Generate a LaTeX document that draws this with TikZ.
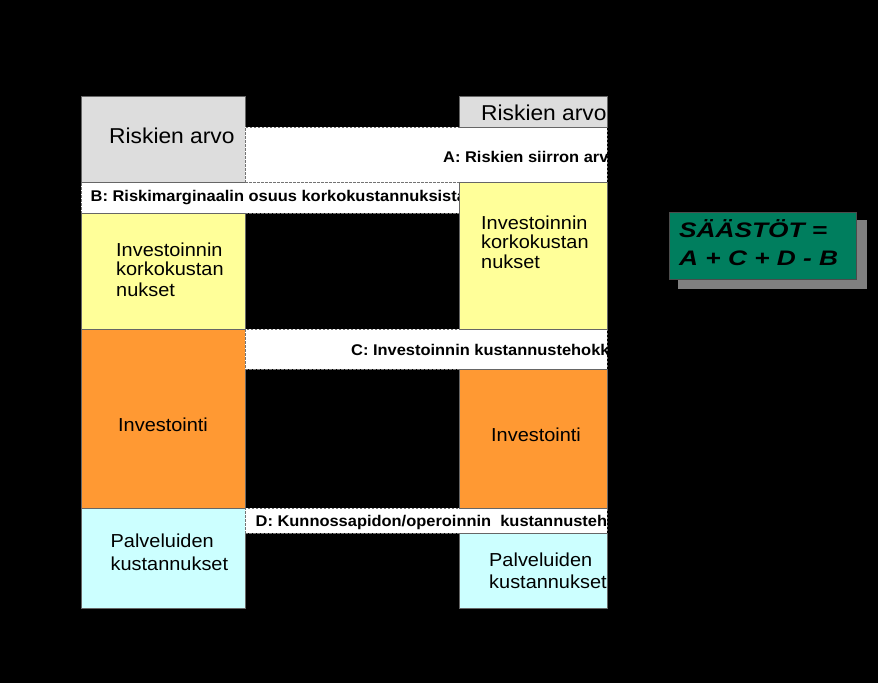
\documentclass[tikz,border=0pt]{standalone}
\usepackage{fontspec}
\setmainfont{Liberation Sans}
\newfontfamily\normf[FakeStretch=1.06]{Liberation Sans}
\newfontfamily\stripf[FakeStretch=1.06]{Liberation Sans}
\newfontfamily\greenf[FakeStretch=1.25]{Liberation Sans}
\definecolor{boxgray}{HTML}{DDDDDD}
\definecolor{boxyellow}{HTML}{FFFF99}
\definecolor{boxorange}{HTML}{FF9933}
\definecolor{boxcyan}{HTML}{CCFFFF}
\definecolor{boxgreen}{RGB}{0,126,94}
\definecolor{shadowgray}{HTML}{808080}
\begin{document}
\begin{tikzpicture}[x=1pt,y=-1pt,
  box/.style={draw=black!60, line width=0.7pt, inner sep=0pt, outer sep=0pt, anchor=north west},
  strip/.style={draw=black!55, dash pattern=on 2.5pt off 1.5pt, line width=0.8pt, fill=white, inner sep=0pt, outer sep=0pt, anchor=north west},
  txt/.style={inner sep=0pt, anchor=base west, font=\normf\fontsize{18.8}{20}\selectfont},
  bigtxt/.style={inner sep=0pt, anchor=base west, font=\normf\fontsize{21.5}{24}\selectfont},
  striptxt/.style={inner sep=0pt, anchor=base west, font=\stripf\bfseries\fontsize{15.5}{17}\selectfont},
  greentxt/.style={inner sep=0pt, anchor=base west, font=\greenf\bfseries\itshape\fontsize{21}{24}\selectfont}]
\fill[black] (0,0) rectangle (878,683);
\useasboundingbox (0,0) rectangle (878,683);

% B strip and its text (partly hidden by the right column)
\node[strip, minimum width=378pt, minimum height=31pt] (bstrip) at (81,182) {};
\node[striptxt] (tb) at (90.5,201.5) {B: Riskimarginaalin osuus korkokustannuksista};
% left column
\node[box, fill=boxgray, minimum width=164pt, minimum height=86pt] (lgray) at (81,96) {};
\node[box, fill=boxyellow, minimum width=164pt, minimum height=116pt] (lyellow) at (81,213) {};
\node[box, fill=boxorange, minimum width=164pt, minimum height=179pt] (lorange) at (81,329) {};
\node[box, fill=boxcyan, minimum width=164pt, minimum height=100pt] (lcyan) at (81,508) {};
% strips A, C, D
\node[strip, minimum width=362pt, minimum height=55pt] (astrip) at (245,127) {};
\node[strip, minimum width=362pt, minimum height=40pt] (cstrip) at (245,329) {};
\node[strip, minimum width=362pt, minimum height=25pt] (dstrip) at (245,508) {};
% right column
\node[box, fill=boxgray, minimum width=148pt, minimum height=31pt] (rgray) at (459,96) {};
\node[box, fill=boxyellow, minimum width=148pt, minimum height=147pt] (ryellow) at (459,182) {};
\node[box, fill=boxorange, minimum width=148pt, minimum height=139pt] (rorange) at (459,369) {};
\node[box, fill=boxcyan, minimum width=148pt, minimum height=75pt] (rcyan) at (459,533) {};

\begin{scope}
\clip (0,0) rectangle (607.5,683);
\node[bigtxt] (tlgray) at (109,143) {Riskien arvo};
\node[bigtxt] (trgray) at (481,120.5) {Riskien arvo};
\node[striptxt] (ta) at (443,162) {A: Riskien siirron arvo};
\node[striptxt] (tc) at (351,355) {C: Investoinnin kustannustehokkuus};
\node[striptxt] (td) at (255.5,526.5) {D: Kunnossapidon/operoinnin\ \ kustannustehokkuus};
\node[txt] (tly1) at (116,256) {Investoinnin};
\node[txt] (tly2) at (116,275.5) {korkokustan};
\node[txt] (tly3) at (116,296) {nukset};
\node[txt] (try1) at (481,229) {Investoinnin};
\node[txt] (try2) at (481,248) {korkokustan};
\node[txt] (try3) at (481,268) {nukset};
\node[txt] (tlo) at (118,431) {Investointi};
\node[txt] (tro) at (491,441) {Investointi};
\node[txt] (tlc1) at (110.5,547) {Palveluiden};
\node[txt] (tlc2) at (110.5,570) {kustannukset};
\node[txt] (trc1) at (489,566) {Palveluiden};
\node[txt] (trc2) at (489,588.5) {kustannukset};
\end{scope}

% savings box
\node[box, draw=none, fill=shadowgray, minimum width=189pt, minimum height=69pt] (gshadow) at (678,220) {};
\node[box, draw=black!70, line width=0.6pt, fill=boxgreen, minimum width=187pt, minimum height=67pt] (gbox) at (669,212) {};
\node[greentxt] (tg1) at (679,237) {SÄÄSTÖT =};
\node[greentxt] (tg2) at (679,265) {A + C + D - B};
\end{tikzpicture}
\end{document}
